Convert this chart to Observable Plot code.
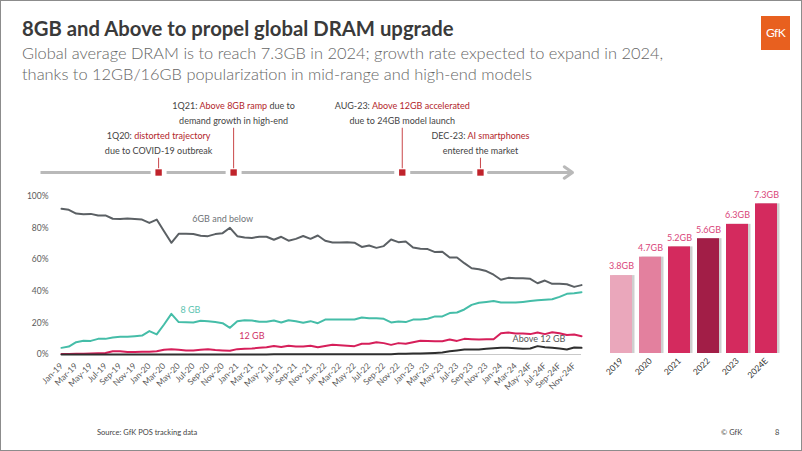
<!DOCTYPE html>
<html><head><meta charset="utf-8">
<script src="https://cdn.jsdelivr.net/npm/d3@7"></script>
<script src="https://cdn.jsdelivr.net/npm/@observablehq/plot@0.6"></script>
<style>
html,body{margin:0;padding:0;background:#fff;}
#page{position:relative;width:802px;height:451px;overflow:hidden;background:#fff;font-family:Lato,"Noto Sans",sans-serif;}
#frame{position:absolute;left:0;top:0;width:802px;height:451px;box-sizing:border-box;border:1px solid #8c8c8c;pointer-events:none;}
.abs{position:absolute;white-space:nowrap;}
#title{left:22px;top:16px;font-size:20.3px;font-weight:700;color:#3a3a3a;}
#subtitle{left:22px;top:42px;font-size:16.4px;font-weight:300;color:#666;line-height:21px;}
#logo{left:761px;top:16px;width:29px;height:34px;background:#e8601f;color:#fff;font-size:12px;text-align:center;line-height:34px;letter-spacing:-0.5px;}
#source{left:97px;top:428px;font-size:7.5px;color:#444;}
#copy{left:721px;top:428px;font-size:7.5px;color:#444;}
#pnum{left:775px;top:428px;font-size:7.5px;color:#444;}
#timeline{left:0;top:95px;}
#lines{left:0;top:186px;}
#bars{left:595px;top:186px;}
</style></head>
<body>
<div id="page">
  <div id="title" class="abs">8GB and Above to propel global DRAM upgrade</div>
  <div id="subtitle" class="abs">Global average DRAM is to reach 7.3GB in 2024; growth rate expected to expand in 2024,<br>thanks to 12GB/16GB popularization in mid-range and high-end models</div>
  <div id="logo" class="abs">GfK</div>
  <div id="timeline" class="abs"></div>
  <div id="lines" class="abs"></div>
  <div id="bars" class="abs"></div>
  <div id="source" class="abs">Source: GfK POS tracking data</div>
  <div id="copy" class="abs">© GfK</div>
  <div id="pnum" class="abs">8</div>
  <div id="frame"></div>
</div>
<script>
// ---------- DATA ----------
const tickLabels = ["Jan-19","Mar-19","May-19","Jul-19","Sep-19","Nov-19","Jan-20","Mar-20","May-20","Jul-20","Sep-20","Nov-20","Jan-21","Mar-21","May-21","Jul-21","Sep-21","Nov-21","Jan-22","Mar-22","May-22","Jul-22","Sep-22","Nov-22","Jan-23","Mar-23","May-23","Jul-23","Sep-23","Nov-23","Jan-24","Mar-24","May-24F","Jul-24F","Sep-24F","Nov-24F"];

const sixAndBelow = [92.2,91.6,89.2,88.8,89.0,88.0,88.0,85.9,85.7,86.1,
  85.7,85.4,83.3,85.4,78.0,70.7,76.4,76.4,76.3,75.1,
  74.9,76.2,76.8,80.2,74.9,74.1,73.8,74.5,74.5,72.6,
  74.5,72.0,73.2,75.0,73.2,75.3,72.0,70.9,70.9,71.0,
  70.8,68.1,69.0,67.5,68.6,72.8,71.1,71.5,67.7,67.0,
  66.7,64.8,65.0,61.4,61.4,57.8,54.6,54.0,52.8,50.5,
  47.3,48.5,48.3,48.3,47.9,45.1,46.8,44.7,44.7,44.5,
  42.8,43.9];
const eightGB = [4.2,5.0,7.8,8.7,8.6,9.9,9.9,10.8,11.2,11.2,
  11.6,12.0,14.8,12.7,19.0,25.7,20.5,20.4,20.3,21.3,
  21.1,20.5,19.8,16.9,21.1,21.7,21.5,20.7,20.7,21.5,
  20.3,21.7,21.0,20.1,21.1,19.8,22.1,22.1,22.1,22.1,
  22.1,23.4,23.0,23.0,22.6,20.3,20.9,20.5,22.1,22.1,
  22.6,24.1,24.1,26.2,26.6,28.5,31.4,32.7,33.3,33.8,
  32.9,32.9,32.9,33.3,33.8,34.4,34.7,35.0,36.5,38.4,
  38.8,39.4];
const twelveGB = [0.3,0.3,0.4,0.5,0.6,0.8,1.0,2.0,2.0,1.6,
  1.6,1.7,1.8,2.0,3.0,3.3,3.0,2.6,2.6,3.0,
  3.3,2.8,2.6,2.4,3.4,3.6,3.8,4.2,4.6,5.4,
  4.8,5.6,5.0,5.0,5.6,4.6,5.4,6.1,5.8,5.5,
  5.3,6.8,6.8,7.8,7.2,6.1,7.2,6.8,7.8,8.7,
  8.6,8.4,8.4,9.5,8.6,9.9,9.7,9.5,9.6,9.7,
  13.5,13.9,13.3,13.3,12.9,13.9,12.9,14.1,13.5,12.4,
  12.7,11.6];
const above12GB = [0,0,0,0,0,0,0,0,0,0,
  0,0,0,0,0,0,0,0,0,0,
  0,0,0,0,0,0,0,0,0,0.1,
  0.1,0.1,0.1,0.1,0.1,0.1,0.1,0.1,0.1,0.1,
  0.1,0.1,0.1,0.2,0.2,0.2,0.4,0.5,0.6,0.7,
  0.8,1.0,1.3,2.1,2.6,3.2,3.2,3.2,3.6,4.0,
  4.2,4.2,4.0,3.6,3.8,5.3,4.6,4.2,3.8,3.2,
  4.4,4.2];

const seriesNames = ["6GB and below","8 GB","12 GB","Above 12 GB"];
const seriesColors = ["#5b6064","#45bda8","#d61f5a","#2f2f2f"];
const seriesLabelColors = ["#6f7478","#5cc4b1","#cf2f66","#555555"];
const seriesLabelMonth = [22, 17.6, 26, 65.2];
const seriesLabelPct = [86, 28.3, 11.4, 9.5];
const yTicks = [0,20,40,60,80,100];

const years = ["2019","2020","2021","2022","2023","2024E"];
const avgDram = [3.8,4.7,5.2,5.6,6.3,7.3];
const barColors = ["#eaa7bb","#e3809e","#d42a5e","#a21e47","#d42a5e","#d42a5e"];

// timeline events (schematic position along the arrow, 0-100)
const eventNames = ["1Q20","1Q21","AUG-23","DEC-23"];
const eventPos = [22.2, 36.3, 68.0, 82.7];
const eventRow = [2, 0, 0, 2];      // first text row of each annotation
const eventLine1Prefix = ["1Q20: ","1Q21: ","AUG-23: ","DEC-23: "];
const eventLine1Hi = ["distorted trajectory","Above 8GB ramp","Above 12GB accelerated","AI smartphones"];
const eventLine1Suffix = [""," due to","",""];
const eventLine2 = ["due to COVID-19 outbreak","demand growth in high-end","due to 24GB model launch","entered the market"];

// ---------- TIMELINE ----------
const lineRow = 4.4;
const gap = 1.5;
const stops = [0, ...eventPos, 100];
const segments = [];
for (let k = 0; k < stops.length - 1; k++) {
  segments.push({a: k === 0 ? stops[k] : stops[k] + gap, b: k === stops.length - 2 ? stops[k+1] : stops[k+1] - gap, last: k === stops.length - 2});
}
const events = eventNames.map((n, k) => ({name: n, pos: eventPos[k], row: eventRow[k]}));
const annLines = [];
events.forEach((e, k) => {
  annLines.push({pos: e.pos, row: e.row, text: eventLine1Prefix[k] + eventLine1Hi[k] + eventLine1Suffix[k]});
  annLines.push({pos: e.pos, row: e.row + 1, text: eventLine2[k]});
});

const tl = Plot.plot({
  width: 802, height: 90, margin: 0,
  style: {fontFamily: "Lato, 'Noto Sans', sans-serif", background: "transparent"},
  x: {domain: [0, 100], range: [40, 572], axis: null},
  y: {domain: [0, lineRow], range: [11, 77], axis: null},
  marks: [
    Plot.link(segments.filter(s => !s.last), {x1: "a", x2: "b", y1: lineRow, y2: lineRow, stroke: "#b9b9b9", strokeWidth: 3}),
    Plot.arrow(segments.filter(s => s.last), {x1: "a", x2: "b", y1: lineRow, y2: lineRow, stroke: "#b9b9b9", strokeWidth: 3, headLength: 5, headAngle: 70}),
    Plot.ruleX(events, {x: "pos", y1: e => e.row + 1.45, y2: lineRow - 0.25, stroke: "#c9474a", strokeWidth: 1}),
    Plot.dot(events, {x: "pos", y: lineRow, symbol: "square", r: 3.6, fill: "#c0232b", stroke: "none"}),
    Plot.text(annLines, {x: "pos", y: "row", text: "text", fontSize: 9, fill: "#444", textAnchor: "middle"})
  ]
});
// colour the highlighted part of each first line
d3.select(tl).selectAll("text").each(function() {
  const t = this.textContent;
  const k = eventLine1Prefix.findIndex((p, j) => p + eventLine1Hi[j] + eventLine1Suffix[j] === t);
  if (k < 0) return;
  const el = d3.select(this);
  el.text(null);
  el.append("tspan").text(eventLine1Prefix[k]);
  el.append("tspan").attr("fill", "#b3262b").text(eventLine1Hi[k]);
  if (eventLine1Suffix[k]) el.append("tspan").text(eventLine1Suffix[k]);
});
document.getElementById("timeline").appendChild(tl);

// ---------- LINE CHART ----------
const seriesArrays = [sixAndBelow, eightGB, twelveGB, above12GB];
const rows = [];
seriesArrays.forEach((arr, s) => arr.forEach((v, i) => rows.push({s: seriesNames[s], i, v})));
const seriesLabels = seriesNames.map((n, k) => ({n, x: seriesLabelMonth[k], y: seriesLabelPct[k], c: seriesLabelColors[k]}));
const tickIdx = tickLabels.map((_, k) => 2 * k);

const lc = Plot.plot({
  width: 595, height: 215,
  marginLeft: 61, marginRight: 14, marginTop: 10, marginBottom: 47,
  style: {fontFamily: "Lato, 'Noto Sans', sans-serif", fontSize: "8.5px", color: "#5a5a5a", background: "transparent"},
  x: {domain: [0, 71], ticks: tickIdx, tickFormat: i => tickLabels[i / 2], tickRotate: -45, tickSize: 0, tickPadding: 10, label: null},
  y: {domain: [0, 100], ticks: yTicks, tickFormat: d => d + "%", tickSize: 0, tickPadding: 13, label: null},
  color: {domain: seriesNames, range: seriesColors},
  marks: [
    Plot.ruleY([0], {stroke: "#c9c9c9", strokeWidth: 1}),
    Plot.line(rows, {x: "i", y: "v", z: "s", stroke: "s", strokeWidth: 2}),
    Plot.text(seriesLabels, {x: "x", y: "y", text: "n", fill: "c", fontSize: 9})
  ]
});
document.getElementById("lines").appendChild(lc);

// ---------- BAR CHART ----------
const barData = years.map((y, k) => ({year: y, gb: avgDram[k], color: barColors[k]}));
const bc = Plot.plot({
  width: 200, height: 215,
  marginLeft: 9, marginRight: 13, marginTop: 3, marginBottom: 48,
  style: {fontFamily: "Lato, 'Noto Sans', sans-serif", fontSize: "8.5px", color: "#333", background: "transparent"},
  x: {domain: years, paddingInner: 0.25, paddingOuter: 0.125, tickSize: 0, tickRotate: -45, tickPadding: 6, label: null},
  y: {domain: [0, 8], axis: null},
  marks: [
    Plot.barY(barData, {x: "year", y: "gb", fill: "#cfcfcf", dx: 2.5, dy: 0}),
    Plot.barY(barData, {x: "year", y: "gb", fill: "color"}),
    Plot.text(barData, {x: "year", y: "gb", text: d => d.gb.toFixed(1) + "GB", dy: -9, fill: "#d9467a", fontSize: 9})
  ]
});
document.getElementById("bars").appendChild(bc);
</script>
</body></html>
